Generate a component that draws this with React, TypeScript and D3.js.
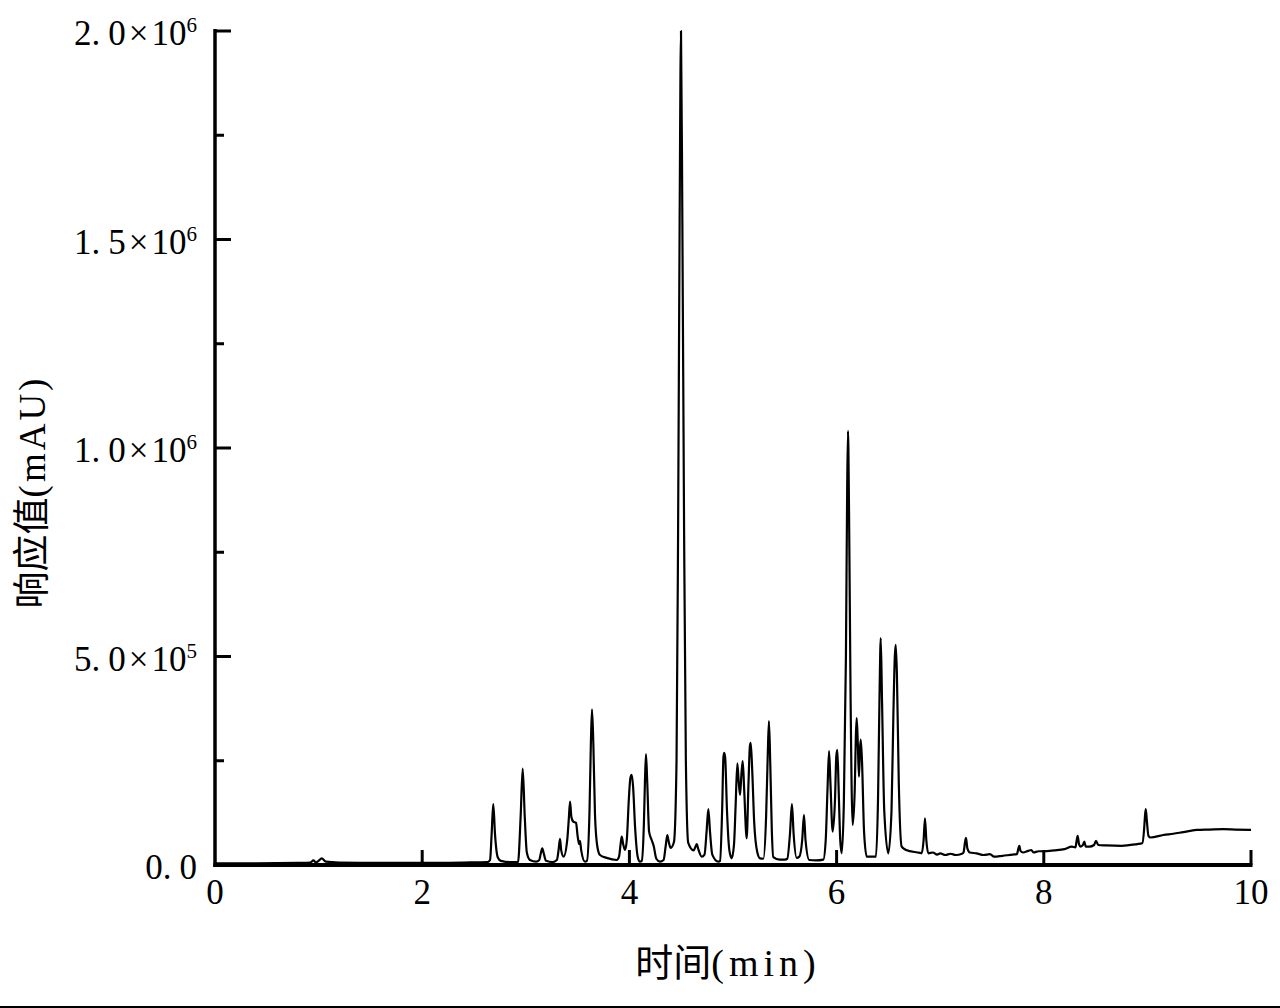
import React from 'react';
import * as d3 from 'd3';

// Retention time (min) and detector response (units of 1e5 mAU)
const retentionTime = [
  0.0, 0.4, 0.8, 0.92, 0.95, 0.975, 1.0, 1.03, 1.07, 1.2, 1.6, 2.0, 2.4, 2.63,
  2.655, 2.67, 2.686, 2.703, 2.73, 2.76, 2.85, 2.925, 2.95, 2.97, 2.99, 3.01, 3.04,
  3.1, 3.13, 3.145, 3.159, 3.175, 3.195, 3.26, 3.3, 3.316, 3.33, 3.342, 3.365,
  3.4, 3.415, 3.427, 3.44, 3.458, 3.485, 3.5, 3.514, 3.523, 3.535, 3.571,
  3.59, 3.615, 3.628, 3.639, 3.652, 3.668, 3.69, 3.716, 3.78, 3.877,
  3.9, 3.915, 3.926, 3.94, 3.958, 3.975, 3.995, 4.01, 4.022, 4.035, 4.055, 4.08, 4.102,
  4.119, 4.14, 4.15, 4.16, 4.172, 4.19, 4.215, 4.235, 4.26, 4.295,
  4.33, 4.35, 4.366, 4.38, 4.399, 4.43, 4.455, 4.47, 4.485, 4.498, 4.511, 4.528, 4.545, 4.568,
  4.62, 4.64, 4.65, 4.665, 4.698, 4.725, 4.745, 4.762, 4.778, 4.8, 4.858,
  4.875, 4.895, 4.908, 4.916, 4.925, 4.942, 4.965, 4.987,
  5.01, 5.025, 5.042, 5.055, 5.068, 5.082, 5.094, 5.108, 5.132,
  5.15, 5.163, 5.171, 5.185, 5.205, 5.235, 5.261,
  5.293, 5.32, 5.335, 5.347, 5.36, 5.375, 5.389, 5.45, 5.5,
  5.524, 5.55, 5.569, 5.585, 5.615, 5.64, 5.668, 5.685, 5.7, 5.736, 5.8, 5.872,
  5.895, 5.912, 5.927, 5.94, 5.962, 5.985, 5.997, 6.007, 6.02, 6.035, 6.049,
  6.07, 6.09, 6.102, 6.11, 6.12, 6.135, 6.155, 6.175, 6.186, 6.194, 6.205, 6.216,
  6.226, 6.233, 6.245, 6.265, 6.291,
  6.38, 6.4, 6.414, 6.426, 6.438, 6.46, 6.499, 6.53, 6.548, 6.562, 6.571, 6.582, 6.6, 6.628,
  6.67, 6.805, 6.821, 6.84, 6.853, 6.866, 6.885,
  6.93, 6.97, 7.0, 7.05, 7.1, 7.15, 7.21, 7.225, 7.24, 7.249, 7.262, 7.285,
  7.35, 7.42, 7.48, 7.52, 7.6, 7.7, 7.74, 7.755, 7.764, 7.775, 7.8, 7.85, 7.88, 7.9,
  7.95, 8.0, 8.1, 8.2, 8.27, 8.305, 8.318, 8.327, 8.34, 8.355, 8.378, 8.391, 8.405, 8.44,
  8.485, 8.504, 8.525, 8.6, 8.75, 8.9, 8.95, 8.968, 8.976, 8.984, 8.995, 9.01, 9.03,
  9.153, 9.25, 9.347, 9.476, 9.6, 9.733, 9.85, 10.0,
];

const response = [
  0.04, 0.04, 0.05, 0.06, 0.11, 0.06, 0.1, 0.16, 0.08, 0.06, 0.05, 0.05, 0.06, 0.07,
  0.12, 0.73, 1.46, 0.73, 0.18, 0.1, 0.07, 0.07, 1.15, 2.31, 1.15, 0.3, 0.12,
  0.08, 0.12, 0.28, 0.4, 0.26, 0.1, 0.07, 0.12, 0.35, 0.63, 0.35, 0.2,
  0.6, 1.1, 1.52, 1.15, 1.04, 1.01, 0.7, 0.5, 0.58, 0.35, 0.08,
  0.1, 1.3, 2.9, 3.73, 2.9, 1.2, 0.45, 0.24, 0.17, 0.12,
  0.2, 0.5, 0.68, 0.5, 0.36, 0.6, 1.6, 2.1, 2.16, 1.9, 0.9, 0.2, 0.08,
  0.1, 1.0, 2.0, 2.66, 2.0, 0.8, 0.6, 0.45, 0.15, 0.08,
  0.12, 0.45, 0.72, 0.55, 0.41, 0.55, 2.5, 8.0, 15.5, 20.0, 15.5, 8.0, 2.5, 0.53,
  0.35, 0.45, 0.5, 0.38, 0.2, 0.25, 0.8, 1.34, 0.8, 0.25, 0.08,
  0.1, 1.3, 2.6, 2.69, 2.55, 1.3, 0.35, 0.16,
  0.5, 1.4, 2.44, 2.0, 1.68, 2.2, 2.49, 1.8, 0.64,
  2.0, 2.85, 2.93, 2.3, 1.0, 0.3, 0.16,
  0.15, 1.2, 2.6, 3.45, 2.4, 0.8, 0.19, 0.13, 0.13,
  0.15, 0.75, 1.46, 0.75, 0.17, 0.2, 0.6, 1.2, 0.6, 0.12, 0.11, 0.13,
  0.6, 1.8, 2.73, 2.0, 0.8, 1.6, 2.6, 2.76, 1.8, 0.6, 0.28,
  1.5, 5.0, 9.0, 10.41, 8.5, 4.0, 0.96, 1.8, 3.1, 3.52, 2.9, 2.12,
  2.8, 3.01, 2.5, 0.8, 0.2,
  0.2, 1.6, 4.0, 5.44, 4.0, 1.3, 0.28, 1.3, 3.6, 5.0, 5.28, 4.6, 2.0, 0.44,
  0.36, 0.29, 0.28, 0.6, 1.12, 0.6, 0.28,
  0.3, 0.25, 0.28, 0.24, 0.27, 0.24, 0.27, 0.3, 0.55, 0.65, 0.4, 0.3,
  0.28, 0.24, 0.26, 0.2, 0.22, 0.25, 0.26, 0.4, 0.46, 0.34, 0.3, 0.34, 0.36, 0.3,
  0.33, 0.33, 0.35, 0.38, 0.44, 0.42, 0.6, 0.7, 0.5, 0.44, 0.48, 0.56, 0.44, 0.44,
  0.48, 0.58, 0.48, 0.47, 0.46, 0.5, 0.52, 0.85, 1.15, 1.34, 1.05, 0.7, 0.66,
  0.72, 0.75, 0.79, 0.84, 0.85, 0.86, 0.85, 0.84,
];
const RESPONSE_UNIT = 1e5;

const xTickValues = [0, 2, 4, 6, 8, 10];
const xTickLabels = ['0', '2', '4', '6', '8', '10'];
const yMajorTickValues = [0, 5e5, 1e6, 1.5e6, 2e6];
const yMinorTickValues = [2.5e5, 7.5e5, 1.25e6, 1.75e6];
const yTickInt = ['0', '5', '1', '1', '2'];
const yTickFrac = ['0', '0', '0', '5', '0'];
const yTickExp = ['', '5', '6', '6', '6'];

const xTitleCJK = '时间';
const xTitleUnit = '(min)';
const yTitleCJK = '响应值';
const yTitleUnit = '(mAU)';

const W = 1280;
const H = 1008;
const serif = "'Liberation Serif', 'DejaVu Serif', serif";
const cjk = "'Noto Sans CJK SC', sans-serif";

export default function App() {
  const x = d3.scaleLinear().domain([0, 10]).range([215, 1251]);
  const y = d3.scaleLinear().domain([0, 2e6]).range([865, 31]);

  const pts = retentionTime.map((t, i) => [t, response[i] * RESPONSE_UNIT] as [number, number]);
  const line = d3
    .line<[number, number]>()
    .x((d) => x(d[0]))
    .y((d) => y(d[1]))
    .curve(d3.curveMonotoneX);

  const x0 = x(0);
  const yBase = y(0);

  return (
    <svg
      width={W}
      height={H}
      viewBox={`0 0 ${W} ${H}`}
      style={{ position: 'absolute', left: 0, top: 0, background: '#fff' }}
    >
      <rect x={0} y={0} width={W} height={H} fill="#fff" />
      {/* trace */}
      <path d={line(pts) || ''} fill="none" stroke="#000" strokeWidth={2.2} strokeLinejoin="round" />

      {/* axes */}
      <line x1={x0} x2={x0} y1={y(2e6) - 2} y2={yBase + 2} stroke="#000" strokeWidth={3.5} />
      <line x1={x0 - 1.75} x2={x(10) + 1.5} y1={yBase} y2={yBase} stroke="#000" strokeWidth={4} />

      {/* x ticks */}
      {xTickValues.map((t, i) => (
        <g key={'xt' + i}>
          {t !== 0 && (
            <line x1={x(t)} x2={x(t)} y1={yBase} y2={yBase - 15} stroke="#000" strokeWidth={3} />
          )}
          <text x={x(t)} y={904} textAnchor="middle" fontSize={35} fontFamily={serif} fill="#000">
            {xTickLabels[i]}
          </text>
        </g>
      ))}

      {/* y ticks */}
      {yMajorTickValues.map((v, i) => (
        <g key={'ym' + i}>
          {v !== 0 && (
            <line x1={x0} x2={x0 + 16} y1={y(v)} y2={y(v)} stroke="#000" strokeWidth={3} />
          )}
          <text x={197} y={y(v) + 14} textAnchor="end" fontSize={35} fontFamily={serif} fill="#000">
            {yTickInt[i]}.
            <tspan dx={8}>{yTickFrac[i]}</tspan>
            {yTickExp[i] !== '' && (
              <>
                <tspan dx={3}>×</tspan>
                <tspan dx={3}>10</tspan>
                <tspan dy={-13} fontSize={21}>
                  {yTickExp[i]}
                </tspan>
              </>
            )}
          </text>
        </g>
      ))}
      {yMinorTickValues.map((v, i) => (
        <line key={'yn' + i} x1={x0} x2={x0 + 9} y1={y(v)} y2={y(v)} stroke="#000" strokeWidth={3} />
      ))}

      {/* axis titles */}
      <text x={728} y={976} textAnchor="middle" fontSize={38} fill="#000">
        <tspan fontFamily={cjk}>{xTitleCJK}</tspan>
        <tspan fontFamily={serif} letterSpacing={5}>
          {xTitleUnit}
        </tspan>
      </text>
      <text transform="translate(45, 492) rotate(-90)" textAnchor="middle" fontSize={37} fill="#000">
        <tspan fontFamily={cjk}>{yTitleCJK}</tspan>
        <tspan fontFamily={serif} letterSpacing={3}>
          {yTitleUnit}
        </tspan>
      </text>

      {/* bottom rule */}
      <line x1={0} x2={W} y1={1007} y2={1007} stroke="#000" strokeWidth={2} />
    </svg>
  );
}
